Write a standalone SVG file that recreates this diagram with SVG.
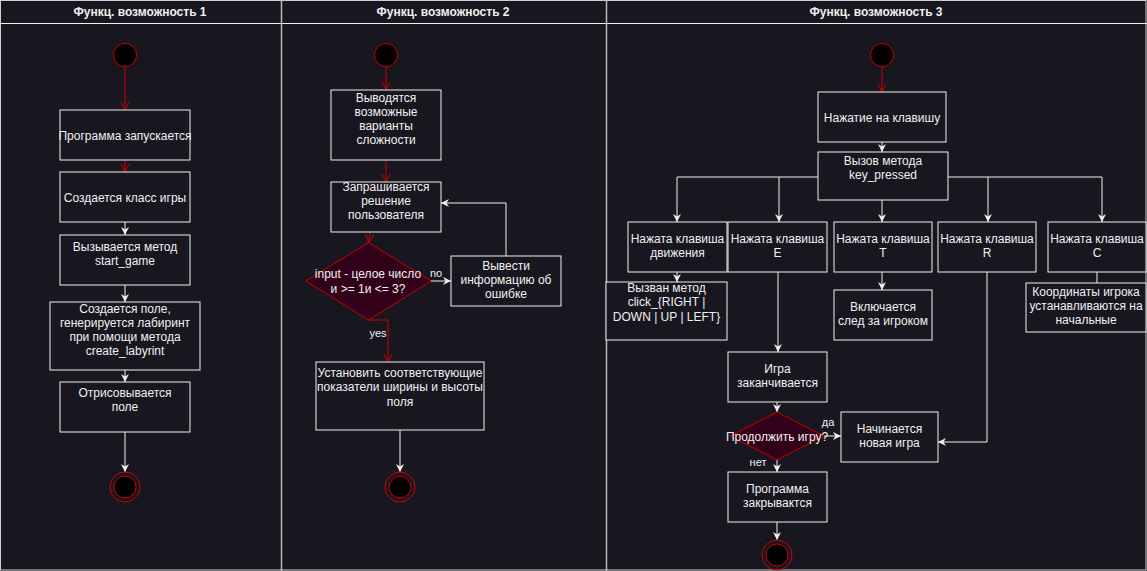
<svg xmlns="http://www.w3.org/2000/svg" width="1147" height="571" viewBox="0 0 1147 571">
<style>
.t{font-family:"Liberation Sans",Arial,sans-serif;font-size:12px;fill:#f0f0f0;text-anchor:middle}
.h{font-family:"Liberation Sans",Arial,sans-serif;font-size:12px;font-weight:bold;fill:#f0f0f0;text-anchor:middle}
.l{font-family:"Liberation Sans",Arial,sans-serif;font-size:11px;fill:#f0f0f0;text-anchor:middle}
.b{fill:#18161f;stroke:#f0f0f0;stroke-width:1}
.d{fill:#330019;stroke:#cc0000;stroke-width:1}
.w{fill:none;stroke:#f0f0f0;stroke-width:1;marker-end:url(#wa)}
.wn{fill:none;stroke:#f0f0f0;stroke-width:1}
.r{fill:none;stroke:#cc0000;stroke-width:1;marker-end:url(#ro)}
.s{fill:#000;stroke:#cc0000;stroke-width:1}
.eo{fill:none;stroke:#cc0000;stroke-width:1}
</style>
<defs>
<marker id="wa" viewBox="0 0 8 8" refX="8" refY="4" markerWidth="8" markerHeight="8" orient="auto" markerUnits="userSpaceOnUse"><path d="M0,0 L8,4 L0,8 L2.5,4 z" fill="#f0f0f0"/></marker>
<marker id="ro" viewBox="0 0 10 10" refX="9" refY="5" markerWidth="10" markerHeight="10" orient="auto" markerUnits="userSpaceOnUse"><path d="M1,1 L9,5 L1,9" fill="none" stroke="#cc0000" stroke-width="1"/></marker>
</defs>
<rect x="0" y="0" width="1147" height="571" fill="#18161f"/>
<g id="pool">
<rect x="0.5" y="0.5" width="1145.5" height="569.5" fill="none" stroke="#d0d0d0"/>
<line x1="0" y1="23.5" x2="1147" y2="23.5" stroke="#f0f0f0"/>
<line x1="281.5" y1="0" x2="281.5" y2="571" stroke="#bbbbbb" stroke-width="1.5"/>
<line x1="606.5" y1="0" x2="606.5" y2="571" stroke="#bbbbbb" stroke-width="1.5"/>
<text class="h" x="140" y="16">Функц. возможность 1</text>
<text class="h" x="443" y="16">Функц. возможность 2</text>
<text class="h" x="876" y="16">Функц. возможность 3</text>
</g>
<g id="connectors">
<path class="r" d="M125,67 V110"/>
<path class="r" d="M125,160 V172"/>
<path class="w" d="M125,222 V235"/>
<path class="w" d="M125,285 V302"/>
<path class="w" d="M125,370 V382"/>
<path class="w" d="M125,432 V472"/>
<path class="r" d="M386,67 V90"/>
<path class="r" d="M386,160 V182"/>
<path class="r" d="M370,232 L368.5,242.5"/>
<path class="w" d="M431,281 H451"/>
<text class="l" x="436" y="277">no</text>
<path class="w" d="M506,256 V203 H441"/>
<path class="r" d="M368,320 H388 V362"/>
<text class="l" x="378" y="337">yes</text>
<path class="w" d="M400,430 V472"/>
<path class="r" d="M882,67 V92"/>
<path class="w" d="M882,142 V152"/>
<path class="w" d="M818,177 H677 V222"/>
<path class="w" d="M779,177 V222"/>
<path class="w" d="M882,200 V222"/>
<path class="w" d="M948,177 H1102 V222"/>
<path class="w" d="M988,177 V222"/>
<path class="w" d="M677,272 V282"/>
<path class="w" d="M778,272 V352"/>
<path class="w" d="M882,272 V290"/>
<path class="wn" d="M1097,272 V283"/>
<path class="w" d="M987,272 V442 H938"/>
<path class="w" d="M777,402 V412"/>
<path class="w" d="M824,436 H841"/>
<text class="l" x="828" y="426">да</text>
<path class="w" d="M777,460 V472"/>
<text class="l" x="758" y="466">нет</text>
<path class="w" d="M777,522 V540"/>
</g>
<g id="start1"><circle class="s" cx="125" cy="55" r="11.5"/></g>
<g id="n1"><rect class="b" x="60" y="110" width="130" height="50"/><text class="t" x="125" y="140">Программа запускается</text></g>
<g id="n2"><rect class="b" x="60" y="172" width="130" height="50"/><text class="t" x="125" y="202">Создается класс игры</text></g>
<g id="n3"><rect class="b" x="60" y="235" width="130" height="50"/><text class="t" x="125" y="251">Вызывается метод</text><text class="t" x="125" y="265">start_game</text></g>
<g id="n4"><rect class="b" x="50" y="302" width="150" height="68"/><text class="t" x="125" y="313">Создается поле,</text><text class="t" x="125" y="327">генерируется лабиринт</text><text class="t" x="125" y="341">при помощи метода</text><text class="t" x="125" y="355">create_labyrint</text></g>
<g id="n5"><rect class="b" x="60" y="382" width="130" height="50"/><text class="t" x="125" y="397">Отрисовывается</text><text class="t" x="125" y="411">поле</text></g>
<g id="end1"><circle class="eo" cx="125" cy="487" r="15"/><circle class="s" cx="125" cy="487" r="11"/></g>
<g id="start2"><circle class="s" cx="386" cy="55" r="11.5"/></g>
<g id="m1"><rect class="b" x="331" y="90" width="110" height="70"/><text class="t" x="386" y="102">Выводятся</text><text class="t" x="386" y="116">возможные</text><text class="t" x="386" y="130">варианты</text><text class="t" x="386" y="144">сложности</text></g>
<g id="m2"><rect class="b" x="331" y="182" width="110" height="50"/><text class="t" x="386" y="191">Запрашивается</text><text class="t" x="386" y="205">решение</text><text class="t" x="386" y="219">пользователя</text></g>
<g id="m3"><path class="d" d="M368.5,242.5 L431,281 L368.5,320 L306,281 Z"/><text class="t" x="368" y="278">input - целое число</text><text class="t" x="368" y="293">и &gt;= 1и &lt;= 3?</text></g>
<g id="m4"><rect class="b" x="451" y="256" width="110" height="50"/><text class="t" x="506" y="270">Вывести</text><text class="t" x="506" y="284">информацию об</text><text class="t" x="506" y="298">ошибке</text></g>
<g id="m5"><rect class="b" x="316" y="362" width="168" height="68"/><text class="t" x="400" y="377">Установить соответствующие</text><text class="t" x="400" y="391">показатели ширины и высоты</text><text class="t" x="400" y="406">поля</text></g>
<g id="end2"><circle class="eo" cx="400" cy="487" r="15"/><circle class="s" cx="400" cy="487" r="11"/></g>
<g id="start3"><circle class="s" cx="882" cy="55" r="11.5"/></g>
<g id="k1"><rect class="b" x="818" y="92" width="128" height="50"/><text class="t" x="882" y="122">Нажатие на клавишу</text></g>
<g id="k2"><rect class="b" x="818" y="152" width="130" height="48"/><text class="t" x="883" y="165">Вызов метода</text><text class="t" x="883" y="179">key_pressed</text></g>
<g id="k3"><rect class="b" x="628" y="222" width="99" height="50"/><text class="t" x="677.5" y="243">Нажата клавиша</text><text class="t" x="677.5" y="257">движения</text></g>
<g id="k4"><rect class="b" x="728" y="222" width="99" height="50"/><text class="t" x="777.5" y="243">Нажата клавиша</text><text class="t" x="777.5" y="257">E</text></g>
<g id="k5"><rect class="b" x="834" y="222" width="98" height="50"/><text class="t" x="883" y="243">Нажата клавиша</text><text class="t" x="883" y="257">T</text></g>
<g id="k6"><rect class="b" x="938" y="222" width="98" height="50"/><text class="t" x="987" y="243">Нажата клавиша</text><text class="t" x="987" y="257">R</text></g>
<g id="k7"><rect class="b" x="1048" y="222" width="98" height="50"/><text class="t" x="1097" y="243">Нажата клавиша</text><text class="t" x="1097" y="257">C</text></g>
<g id="k8"><rect class="b" x="606" y="282" width="121" height="58"/><text class="t" x="666.5" y="292">Вызван метод</text><text class="t" x="666.5" y="306">click_{RIGHT |</text><text class="t" x="666.5" y="321">DOWN | UP | LEFT}</text></g>
<g id="k9"><rect class="b" x="834" y="290" width="98" height="50"/><text class="t" x="883" y="311">Включается</text><text class="t" x="883" y="325">след за игроком</text></g>
<g id="k10"><rect class="b" x="1026" y="283" width="120" height="49"/><text class="t" x="1086" y="296">Координаты игрока</text><text class="t" x="1086" y="310">устанавливаются на</text><text class="t" x="1086" y="324">начальные</text></g>
<g id="k11"><rect class="b" x="728" y="352" width="99" height="50"/><text class="t" x="777.5" y="373">Игра</text><text class="t" x="777.5" y="387">заканчивается</text></g>
<g id="k12"><path class="d" d="M777,412 L824,436 L777,460 L730,436 Z"/><text class="t" x="777" y="441">Продолжить игру?</text></g>
<g id="k13"><rect class="b" x="841" y="412" width="97" height="50"/><text class="t" x="889.5" y="433">Начинается</text><text class="t" x="889.5" y="447">новая игра</text></g>
<g id="k14"><rect class="b" x="728" y="472" width="99" height="50"/><text class="t" x="777.5" y="493">Программа</text><text class="t" x="777.5" y="507">закрывактся</text></g>
<g id="end3"><circle class="eo" cx="777" cy="555" r="15"/><circle class="s" cx="777" cy="555" r="11"/></g>
</svg>
